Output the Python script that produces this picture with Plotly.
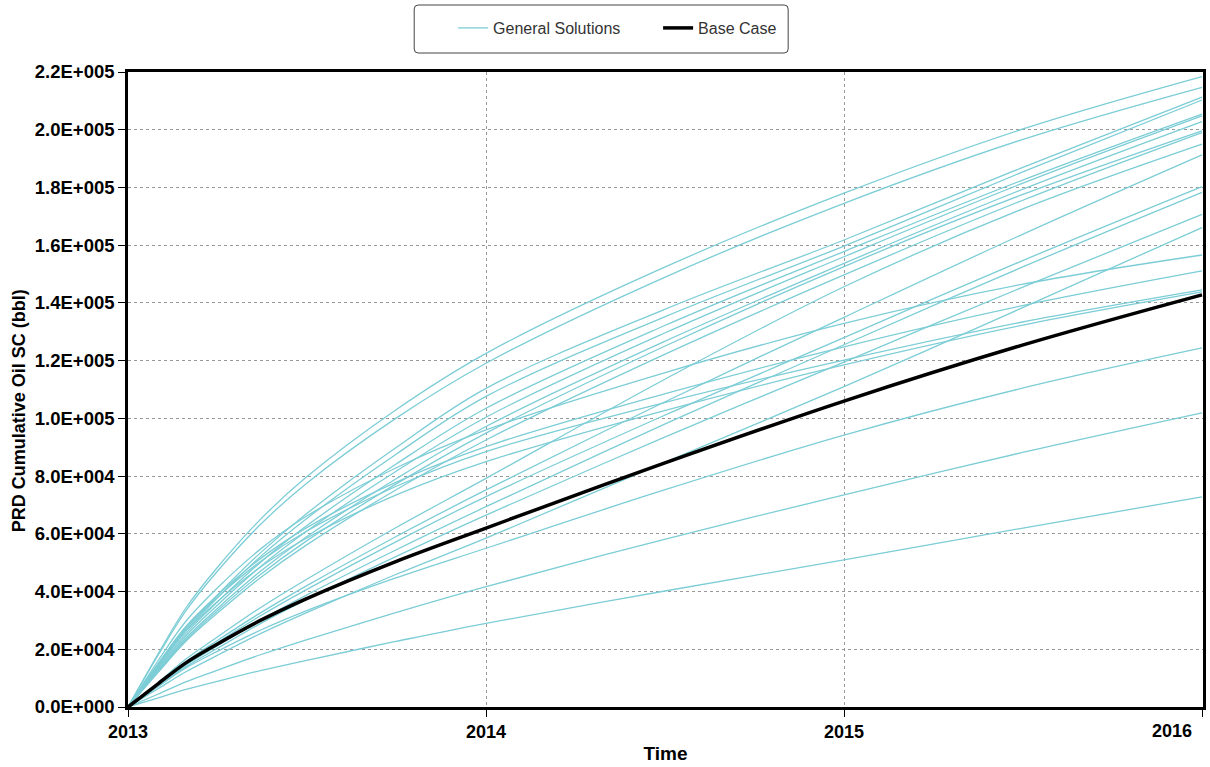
import plotly.graph_objects as go

# Report dates (monthly early on, then quarterly / half-yearly)
dates = ["2013-01-01", "2013-02-01", "2013-03-01", "2013-04-01", "2013-05-16", "2013-07-01",
         "2013-10-01", "2014-01-01", "2014-07-01", "2015-01-01", "2015-07-01", "2016-01-01"]

# Cumulative oil production, thousand bbl, one list per general solution
gs_01 = [0, 18.6, 34.3, 47.9, 65.0, 79.4, 102.9, 122.5, 152.2, 178.0, 200.1, 218.4]
gs_02 = [0, 18.1, 33.3, 46.6, 63.2, 77.2, 100.0, 119.1, 148.7, 174.5, 196.5, 214.7]
gs_03 = [0, 14.5, 27.2, 38.4, 53.4, 66.7, 89.8, 110.4, 137.6, 161.8, 186.8, 211.3]
gs_04 = [0, 14.1, 26.5, 37.4, 52.1, 65.0, 87.5, 107.6, 135.0, 159.7, 185.2, 210.3]
gs_05 = [0, 16.2, 29.7, 40.9, 54.7, 65.9, 82.8, 96.0, 115.7, 132.9, 146.4, 156.6]
gs_06 = [0, 13.6, 25.5, 36.0, 50.1, 62.5, 84.1, 103.5, 132.0, 157.8, 182.4, 205.4]
gs_07 = [0, 13.2, 24.7, 34.9, 48.6, 60.6, 81.6, 100.4, 129.4, 156.0, 181.3, 204.8]
gs_08 = [0, 12.7, 23.9, 33.8, 47.0, 58.7, 79.0, 97.2, 126.5, 153.7, 179.2, 202.8]
gs_09 = [0, 15.0, 27.3, 37.7, 50.4, 60.7, 76.4, 88.5, 105.4, 120.2, 133.3, 144.5]
gs_10 = [0, 12.4, 23.3, 33.0, 45.9, 57.3, 77.2, 94.9, 124.8, 152.6, 177.4, 199.6]
gs_11 = [0, 12.1, 22.8, 32.2, 44.8, 55.9, 75.2, 92.5, 122.0, 149.7, 175.4, 199.0]
gs_12 = [0, 15.2, 27.9, 38.4, 51.4, 61.9, 77.8, 90.2, 108.4, 124.8, 139.0, 151.1]
gs_13 = [0, 8.6, 16.6, 24.0, 34.4, 44.0, 62.1, 79.2, 113.3, 145.6, 172.4, 195.0]
gs_14 = [0, 14.4, 26.3, 36.2, 48.5, 58.3, 73.4, 85.0, 102.6, 118.5, 132.2, 143.8]
gs_15 = [0, 8.2, 15.7, 22.8, 32.6, 41.8, 59.0, 75.2, 105.5, 135.0, 163.6, 191.3]
gs_16 = [0, 7.9, 15.2, 22.1, 31.6, 40.5, 57.2, 72.9, 100.9, 128.0, 154.5, 180.3]
gs_17 = [0, 7.6, 14.5, 21.0, 30.1, 38.6, 54.4, 69.4, 97.8, 125.5, 152.3, 178.3]
gs_18 = [0, 7.2, 13.9, 20.1, 28.9, 37.0, 52.1, 66.5, 93.3, 119.5, 145.3, 170.7]
gs_19 = [0, 6.4, 12.2, 17.7, 25.4, 32.5, 45.9, 58.5, 84.6, 111.0, 138.2, 166.1]
gs_20 = [0, 7.2, 13.5, 19.1, 26.6, 33.2, 44.7, 55.0, 75.1, 94.2, 110.4, 124.4]
gs_21 = [0, 4.5, 8.7, 12.6, 18.1, 23.2, 32.7, 41.7, 58.0, 73.5, 88.1, 101.9]
gs_22 = [0, 3.2, 6.1, 8.8, 12.6, 16.1, 22.7, 29.0, 40.1, 51.0, 61.9, 72.8]

general_solutions = [gs_01, gs_02, gs_03, gs_04, gs_05, gs_06, gs_07, gs_08, gs_09, gs_10, gs_11,
                     gs_12, gs_13, gs_14, gs_15, gs_16, gs_17, gs_18, gs_19, gs_20, gs_21, gs_22]

# Base case cumulative oil, thousand bbl
base_case = [0, 8.1, 15.3, 21.6, 30.0, 37.4, 50.4, 62.0, 84.4, 106.0, 125.3, 142.8]

# Axis ticks
x_tick_vals = ["2013-01-01", "2014-01-01", "2015-01-01", "2016-01-01"]
x_tick_text = ["2013", "2014", "2015", "2016"]
y_tick_vals = [0, 20000, 40000, 60000, 80000, 100000, 120000, 140000, 160000, 180000, 200000, 220000]
y_tick_text = ["0.0E+000", "2.0E+004", "4.0E+004", "6.0E+004", "8.0E+004", "1.0E+005",
               "1.2E+005", "1.4E+005", "1.6E+005", "1.8E+005", "2.0E+005", "2.2E+005"]

CYAN = "#7ccdd6"
FONT = "Liberation Sans, Arial, sans-serif"

fig = go.Figure()

for i, series in enumerate(general_solutions):
    fig.add_trace(go.Scatter(
        x=dates, y=[v * 1000 for v in series],
        mode="lines", line=dict(color=CYAN, width=1.3, shape="spline", smoothing=1.0),
        name="General Solutions", legendgroup="gs", showlegend=(i == 0),
        hoverinfo="skip",
    ))

fig.add_trace(go.Scatter(
    x=dates, y=[v * 1000 for v in base_case],
    mode="lines", line=dict(color="black", width=3.5, shape="spline", smoothing=1.0),
    name="Base Case", hoverinfo="skip",
))

# Pixel -> paper helpers (plot area spans 128..1206 x 72..707)
def px(xp):
    return (xp - 128) / 1078.0

def py(yp):
    return (707 - yp) / 635.0

# Rounded frame around the legend
x0, x1, y0, y1 = px(415), px(790), py(53), py(5)
rx, ry = 4 / 1078.0, 4 / 635.0
frame_path = (
    f"M{x0 + rx},{y1} L{x1 - rx},{y1} Q{x1},{y1} {x1},{y1 - ry} "
    f"L{x1},{y0 + ry} Q{x1},{y0} {x1 - rx},{y0} "
    f"L{x0 + rx},{y0} Q{x0},{y0} {x0},{y0 + ry} "
    f"L{x0},{y1 - ry} Q{x0},{y1} {x0 + rx},{y1} Z"
)

tick_font = dict(family=FONT, size=18, weight="bold", color="black")

# The last year label sits flush against the right edge, so it is placed
# inside the figure instead of being centred on its tick.
shown_x_text = x_tick_text[:-1] + [""]

fig.update_layout(
    width=1210, height=767,
    margin=dict(l=128, r=4, t=72, b=60),
    paper_bgcolor="white", plot_bgcolor="white",
    font=dict(family=FONT, color="black"),
    showlegend=True,
    legend=dict(
        orientation="h", x=px(454), xanchor="left", y=py(28), yanchor="middle",
        font=dict(family=FONT, size=16, color="#333333"),
        bgcolor="rgba(0,0,0,0)", borderwidth=0, entrywidth=160, entrywidthmode="pixels",
    ),
    shapes=[dict(type="path", path=frame_path, xref="paper", yref="paper",
                 line=dict(color="#444444", width=1), fillcolor="rgba(0,0,0,0)")],
    annotations=[
        dict(text="PRD Cumulative Oil SC (bbl)", textangle=-90,
             xref="paper", yref="paper", x=px(19), y=py(411), xanchor="center", yanchor="middle",
             showarrow=False, font=dict(family=FONT, size=18, weight="bold", color="black")),
        dict(text=x_tick_text[-1], xref="x", yref="paper", x=x_tick_vals[-1], y=py(731),
             xanchor="right", yanchor="middle", xshift=-8, showarrow=False, font=tick_font),
    ],
    xaxis=dict(
        type="date", range=["2013-01-01", "2016-01-02"],
        tickmode="array", tickvals=x_tick_vals, ticktext=shown_x_text,
        tickfont=tick_font,
        ticks="outside", ticklen=7, tickcolor="black", tickwidth=1,
        showline=True, linecolor="black", linewidth=2.5, mirror=True,
        showgrid=True, gridcolor="#999999", griddash="dot", gridwidth=1,
        zeroline=False,
        title=dict(text="Time", font=dict(family=FONT, size=19, weight="bold"), standoff=6),
    ),
    yaxis=dict(
        range=[0, 220000],
        tickmode="array", tickvals=y_tick_vals, ticktext=y_tick_text,
        tickfont=dict(family=FONT, size=18.5, weight="bold"),
        ticks="outside", ticklen=7, tickcolor="black", tickwidth=1,
        showline=True, linecolor="black", linewidth=2.5, mirror=True,
        showgrid=True, gridcolor="#999999", griddash="dot", gridwidth=1,
        zeroline=False,
    ),
)

fig.write_html("out.html")
